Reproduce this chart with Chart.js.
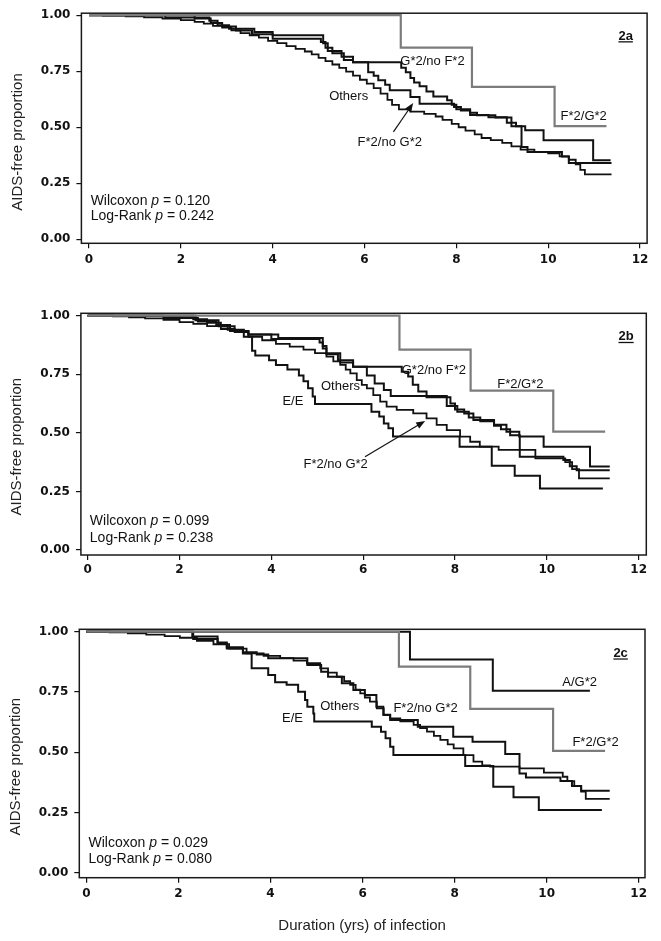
<!DOCTYPE html>
<html>
<head>
<meta charset="utf-8">
<script src="https://cdn.jsdelivr.net/npm/chart.js@4.4.0/dist/chart.umd.min.js"></script>
<style>
  body { margin: 0; background: #fff; }
  canvas { position: absolute; left: 0; }
</style>
</head>
<body>
<canvas id="c2a" width="661" height="300" style="top:0px"></canvas>
<canvas id="c2b" width="661" height="300" style="top:300px"></canvas>
<canvas id="c2c" width="661" height="341" style="top:600px"></canvas>
<script>
var xTicks = [0, 2, 4, 6, 8, 10, 12];
var yTicks = [0, 0.25, 0.5, 0.75, 1];
var yTickLabels = ["0.00", "0.25", "0.50", "0.75", "1.00"];
var panelNames = ["2a", "2b", "2c"];
var statWilcoxon = ["0.120", "0.099", "0.029"];
var statLogRank = ["0.242", "0.238", "0.080"];

// [years, AIDS-free proportion] step points
// F*2/G*2 is the same group in all three panels
var fgBoth = [[0,1],[6.79,0.855],[8.34,0.68],[10.14,0.505],[11.27,0.505]];

// panel 2a
var a_gNoF = [[0,1],[1.66,0.99],[2.62,0.975],[2.8,0.955],[3.05,0.94],[3.6,0.925],[4.0,0.91],[5.1,0.875],[5.2,0.84],[5.5,0.815],[5.75,0.79],[6.8,0.765],[6.9,0.745],[7.0,0.72],[7.08,0.7],[7.2,0.683],[7.35,0.66],[7.5,0.637],[7.8,0.62],[7.9,0.6],[8.0,0.58],[8.3,0.565],[8.45,0.553],[8.85,0.543],[9.2,0.52],[9.3,0.505],[9.5,0.487],[9.9,0.442],[10.98,0.353],[11.36,0.353]];
var a_fNoG = [[0,1],[2.3,0.985],[2.65,0.965],[2.9,0.95],[3.2,0.932],[3.55,0.915],[4.0,0.895],[5.05,0.88],[5.15,0.855],[5.3,0.83],[5.55,0.8],[5.75,0.79],[6.08,0.745],[6.2,0.73],[6.3,0.71],[6.45,0.69],[6.55,0.665],[7.0,0.635],[7.2,0.605],[7.95,0.59],[8.1,0.575],[8.3,0.555],[8.7,0.545],[9.1,0.52],[9.2,0.505],[9.42,0.412],[9.55,0.39],[10.3,0.37],[10.45,0.34],[11.38,0.34]];
var a_others = [[0,1],[0.3,0.998],[0.8,0.995],[1.2,0.99],[1.6,0.985],[2.0,0.978],[2.3,0.97],[2.5,0.962],[2.7,0.952],[2.9,0.945],[3.1,0.932],[3.3,0.92],[3.5,0.91],[3.7,0.9],[3.9,0.885],[4.1,0.875],[4.3,0.862],[4.5,0.85],[4.7,0.838],[4.85,0.825],[5.0,0.81],[5.15,0.795],[5.3,0.78],[5.45,0.765],[5.6,0.748],[5.75,0.73],[5.9,0.712],[6.05,0.695],[6.2,0.675],[6.35,0.65],[6.5,0.622],[6.6,0.6],[6.75,0.58],[7.0,0.57],[7.3,0.56],[7.55,0.548],[7.7,0.533],[7.9,0.515],[8.05,0.5],[8.2,0.485],[8.4,0.468],[8.55,0.452],[8.75,0.443],[9.0,0.43],[9.2,0.415],[9.4,0.4],[9.7,0.39],[10.0,0.383],[10.25,0.37],[10.45,0.355],[10.6,0.335],[10.7,0.31],[10.8,0.29],[11.38,0.29]];

// panel 2b
var b_gNoF = [[0,1],[1.65,0.99],[2.4,0.975],[2.8,0.96],[3.1,0.935],[3.5,0.92],[4.15,0.905],[5.12,0.87],[5.2,0.835],[5.45,0.81],[5.78,0.782],[6.84,0.761],[6.98,0.74],[7.08,0.705],[7.2,0.676],[7.38,0.652],[7.9,0.625],[8.0,0.6],[8.2,0.583],[8.4,0.555],[8.85,0.535],[9.12,0.505],[9.4,0.484],[9.93,0.441],[10.94,0.356],[11.37,0.356]];
var b_fNoG = [[0,1],[2.3,0.985],[2.6,0.97],[2.9,0.955],[3.2,0.935],[3.5,0.92],[4.0,0.9],[5.05,0.885],[5.12,0.86],[5.2,0.84],[5.5,0.8],[5.78,0.782],[6.08,0.745],[6.25,0.711],[6.45,0.683],[6.6,0.657],[7.82,0.615],[8.05,0.59],[8.3,0.565],[8.55,0.55],[8.85,0.53],[9.0,0.515],[9.2,0.49],[9.41,0.398],[10.36,0.384],[10.5,0.358],[10.65,0.341],[11.37,0.341]];
var b_others = [[0,1],[0.55,0.997],[0.9,0.993],[1.25,0.988],[1.65,0.982],[2.0,0.972],[2.3,0.965],[2.6,0.955],[2.9,0.943],[3.2,0.93],[3.5,0.91],[3.8,0.895],[4.1,0.88],[4.4,0.868],[4.7,0.855],[4.95,0.84],[5.2,0.825],[5.35,0.805],[5.5,0.79],[5.62,0.77],[5.72,0.754],[5.86,0.725],[5.97,0.705],[6.08,0.69],[6.22,0.661],[6.37,0.633],[6.51,0.612],[6.73,0.598],[7.09,0.583],[7.38,0.562],[7.6,0.534],[7.82,0.512],[8.11,0.484],[8.33,0.462],[8.54,0.441],[8.95,0.427],[9.75,0.391],[10.4,0.375],[10.55,0.345],[10.7,0.306],[11.37,0.306]];
var b_ee = [[0,1],[2.35,0.98],[2.85,0.955],[3.05,0.94],[3.4,0.91],[3.58,0.85],[3.65,0.83],[3.95,0.81],[4.1,0.79],[4.35,0.77],[4.6,0.745],[4.7,0.72],[4.8,0.69],[4.9,0.655],[4.95,0.623],[6.18,0.59],[6.35,0.57],[6.45,0.54],[6.55,0.52],[6.65,0.484],[8.1,0.441],[8.8,0.36],[9.3,0.317],[9.85,0.263],[11.22,0.263]];

// panel 2c
var c_ag = [[0,1],[7.03,0.885],[8.83,0.755],[10.94,0.755]];
var c_fNoG = [[0,1],[2.32,0.97],[2.85,0.95],[3.05,0.93],[3.4,0.915],[3.7,0.905],[3.95,0.89],[4.8,0.862],[5.1,0.834],[5.25,0.813],[5.55,0.786],[5.8,0.758],[6.05,0.737],[6.3,0.689],[6.45,0.655],[6.6,0.634],[7.2,0.606],[7.97,0.564],[8.39,0.543],[9.1,0.492],[9.41,0.412],[9.55,0.395],[10.3,0.38],[10.55,0.36],[10.75,0.34],[11.37,0.34]];
var c_others = [[0,1],[0.5,0.997],[0.9,0.993],[1.3,0.988],[1.7,0.982],[2.03,0.975],[2.4,0.962],[2.76,0.948],[3.1,0.93],[3.48,0.91],[3.85,0.9],[4.21,0.89],[4.5,0.88],[4.79,0.869],[5.08,0.848],[5.25,0.83],[5.44,0.813],[5.6,0.795],[5.73,0.779],[5.85,0.76],[5.95,0.744],[6.05,0.727],[6.16,0.71],[6.31,0.682],[6.46,0.654],[6.6,0.64],[6.82,0.628],[7.11,0.613],[7.25,0.6],[7.4,0.585],[7.55,0.568],[7.69,0.551],[7.85,0.532],[7.98,0.516],[8.19,0.488],[8.41,0.461],[8.6,0.445],[8.77,0.44],[9.41,0.433],[9.94,0.415],[10.35,0.398],[10.45,0.38],[10.6,0.36],[10.75,0.336],[10.85,0.306],[11.37,0.306]];
var c_ee = [[0,1],[2.3,0.98],[2.85,0.955],[3.05,0.935],[3.4,0.91],[3.59,0.848],[3.95,0.82],[4.1,0.79],[4.35,0.78],[4.6,0.751],[4.75,0.717],[4.8,0.689],[4.93,0.661],[4.95,0.627],[6.2,0.606],[6.4,0.585],[6.5,0.558],[6.6,0.523],[6.67,0.488],[8.23,0.443],[8.84,0.357],[9.28,0.313],[9.83,0.26],[11.2,0.26]];

var BODY = '"Liberation Sans", Arial, sans-serif';
var TICKFONT = { family: '"DejaVu Sans", Verdana, sans-serif', size: 12, weight: 'bold' };

function curve(data, color, width) {
	return {
		data: data,
		borderColor: color,
		borderWidth: width,
		stepped: true,
		pointRadius: 0,
		fill: false,
		tension: 0
	};
}

function drawStat(ctx, x, y, name, val) {
	ctx.font = '14px ' + BODY;
	var s = name + ' ';
	ctx.fillText(s, x, y);
	x += ctx.measureText(s).width;
	ctx.font = 'italic 14px ' + BODY;
	ctx.fillText('p', x, y);
	x += ctx.measureText('p').width;
	ctx.font = '14px ' + BODY;
	ctx.fillText(' = ' + val, x, y);
}

function makeDecor(p) {
	return {
		id: 'decor' + p.idx,
		afterDatasetsDraw: function(chart) {
			var ctx = chart.ctx, a = chart.chartArea;
			var xs = chart.scales.x, ys = chart.scales.y;
			function X(v) { return xs.getPixelForValue(v); }
			function Y(v) { return ys.getPixelForValue(v); }
			ctx.save();
			// plot frame
			ctx.strokeStyle = '#1a1a1a';
			ctx.lineWidth = 1.5;
			ctx.strokeRect(a.left, a.top, a.right - a.left, a.bottom - a.top);

			ctx.fillStyle = '#111';
			ctx.textAlign = 'left';
			ctx.textBaseline = 'alphabetic';

			// group labels
			ctx.font = '13px ' + BODY;
			p.labels.forEach(function(l) {
				ctx.fillText(l[0], X(l[1]), Y(l[2]));
			});

			// arrow to F*2/no G*2
			if (p.arrow) {
				var x1 = X(p.arrow[0]), y1 = Y(p.arrow[1]), x2 = X(p.arrow[2]), y2 = Y(p.arrow[3]);
				var ang = Math.atan2(y2 - y1, x2 - x1);
				ctx.strokeStyle = '#111';
				ctx.lineWidth = 1.2;
				ctx.beginPath();
				ctx.moveTo(x1, y1);
				ctx.lineTo(x2 - 6 * Math.cos(ang), y2 - 6 * Math.sin(ang));
				ctx.stroke();
				ctx.beginPath();
				ctx.moveTo(x2, y2);
				ctx.lineTo(x2 - 9 * Math.cos(ang) + 3.5 * Math.sin(ang), y2 - 9 * Math.sin(ang) - 3.5 * Math.cos(ang));
				ctx.lineTo(x2 - 9 * Math.cos(ang) - 3.5 * Math.sin(ang), y2 - 9 * Math.sin(ang) + 3.5 * Math.cos(ang));
				ctx.closePath();
				ctx.fill();
			}

			// panel tag, bold + underlined
			ctx.font = 'bold 13px ' + BODY;
			var tx = X(p.tag[0]), ty = Y(p.tag[1]);
			var tw = ctx.measureText(panelNames[p.idx]).width;
			ctx.fillText(panelNames[p.idx], tx, ty);
			ctx.lineWidth = 1.3;
			ctx.beginPath();
			ctx.moveTo(tx, ty + 2);
			ctx.lineTo(tx + tw, ty + 2);
			ctx.stroke();

			// test statistics
			drawStat(ctx, X(p.stat[0]), Y(p.stat[1]), 'Wilcoxon', statWilcoxon[p.idx]);
			drawStat(ctx, X(p.stat[0]), Y(p.stat[2]), 'Log-Rank', statLogRank[p.idx]);

			// y axis title
			ctx.font = '15px ' + BODY;
			ctx.fillStyle = '#222';
			ctx.textAlign = 'center';
			ctx.textBaseline = 'middle';
			ctx.save();
			ctx.translate(p.yTitle[0], p.yTitle[1]);
			ctx.rotate(-Math.PI / 2);
			ctx.fillText('AIDS-free proportion', 0, 0);
			ctx.restore();

			if (p.xTitle) {
				ctx.fillText('Duration (yrs) of infection', (a.left + a.right) / 2, p.xTitle);
			}
			ctx.restore();
		}
	};
}

function makePanel(p) {
	var el = document.getElementById(p.id);
	var H = el.height;
	return new Chart(el, {
		type: 'line',
		data: { datasets: p.curves },
		options: {
			responsive: false,
			animation: false,
			devicePixelRatio: 1,
			layout: { autoPadding: false, padding: { left: 0, right: 661 - p.box[1], top: p.box[2], bottom: 0 } },
			plugins: { legend: { display: false }, tooltip: { enabled: false } },
			scales: {
				x: {
					type: 'linear',
					min: p.xr[0], max: p.xr[1],
					afterBuildTicks: function(s) { s.ticks = xTicks.map(function(v) { return { value: v }; }); },
					afterFit: function(s) { s.height = H - p.box[3]; },
					grid: { drawOnChartArea: false, drawTicks: true, tickLength: 5, color: '#111', lineWidth: 1.2 },
					border: { display: false },
					ticks: { font: TICKFONT, color: '#111', padding: p.xpad, maxRotation: 0, autoSkip: false,
						callback: function(v) { return String(v); } }
				},
				y: {
					type: 'linear',
					min: p.yr[0], max: p.yr[1],
					afterBuildTicks: function(s) { s.ticks = yTicks.map(function(v) { return { value: v }; }); },
					afterFit: function(s) { s.width = p.box[0]; },
					grid: { drawOnChartArea: false, drawTicks: true, tickLength: 5, color: '#111', lineWidth: 1.2 },
					border: { display: false },
					ticks: { font: TICKFONT, color: '#111', padding: 6, autoSkip: false,
						callback: function(v, i) { return yTickLabels[i]; } }
				}
			}
		},
		plugins: [makeDecor(p)]
	});
}

var GRAY = '#7c7c7c';

makePanel({
	id: 'c2a', idx: 0,
	box: [81.4, 647.1, 12.7, 243.3],
	xr: [-0.166, 12.155], yr: [-0.0178, 1.0089], xpad: 4,
	curves: [curve(fgBoth, GRAY, 2.2), curve(a_others, '#111', 1.8), curve(a_fNoG, '#111', 2), curve(a_gNoF, '#111', 2)],
	labels: [['G*2/no F*2', 6.78, 0.778], ['Others', 5.23, 0.62], ['F*2/no G*2', 5.85, 0.415], ['F*2/G*2', 10.27, 0.531]],
	arrow: [6.63, 0.479, 7.06, 0.608],
	tag: [11.53, 0.89],
	stat: [0.035, 0.153, 0.086],
	yTitle: [17.5, 142]
});

makePanel({
	id: 'c2b', idx: 1,
	box: [80.9, 646.3, 13.3, 255],
	xr: [-0.148, 12.166], yr: [-0.021, 1.010], xpad: 3,
	curves: [curve(fgBoth, GRAY, 2.2), curve(b_others, '#111', 1.8), curve(b_ee, '#111', 2), curve(b_fNoG, '#111', 2), curve(b_gNoF, '#111', 2)],
	labels: [['G*2/no F*2', 6.84, 0.749], ['Others', 5.08, 0.683], ['E/E', 4.24, 0.617], ['F*2/no G*2', 4.7, 0.35], ['F*2/G*2', 8.92, 0.691]],
	arrow: [6.04, 0.398, 7.35, 0.551],
	tag: [11.56, 0.894],
	stat: [0.046, 0.105, 0.035],
	yTitle: [17, 146.7]
});

makePanel({
	id: 'c2c', idx: 2,
	box: [79.3, 645, 29.3, 277.7],
	xr: [-0.155, 12.137], yr: [-0.021, 1.010], xpad: 4,
	curves: [curve(fgBoth, GRAY, 2.2), curve(c_others, '#111', 1.8), curve(c_ee, '#111', 2), curve(c_fNoG, '#111', 2), curve(c_ag, '#111', 2)],
	labels: [['Others', 5.08, 0.675], ['E/E', 4.25, 0.627], ['F*2/no G*2', 6.67, 0.667], ['A/G*2', 10.34, 0.773], ['F*2/G*2', 10.56, 0.524]],
	arrow: null,
	tag: [11.45, 0.895],
	stat: [0.046, 0.107, 0.039],
	yTitle: [16, 166.7],
	xTitle: 326
});
</script>
</body>
</html>
